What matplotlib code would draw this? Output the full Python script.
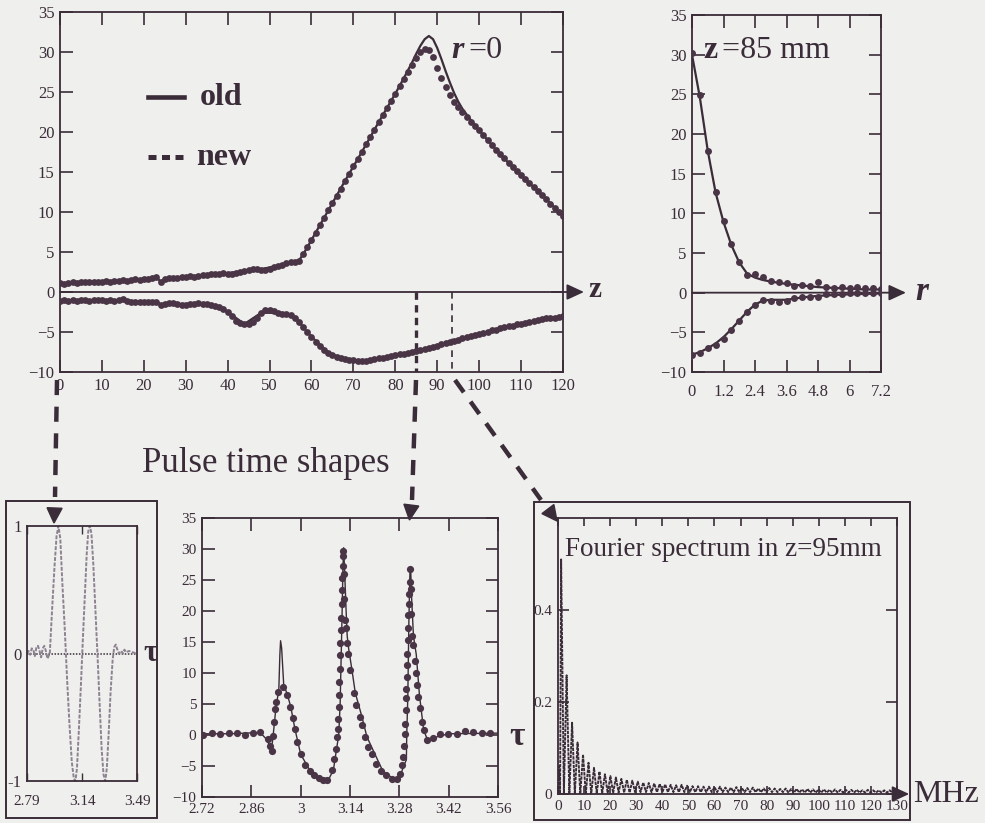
import numpy as np
import matplotlib
matplotlib.use("Agg")
import matplotlib.pyplot as plt
from matplotlib.lines import Line2D
from matplotlib.patches import Rectangle, Polygon

# ---------------- on-axis peak pressure along z (mm) ----------------
z_new = list(range(0, 121))
upper_new = [
    1.1, 1.0, 1.1, 1.2, 1.1, 1.2, 1.2, 1.2, 1.3, 1.3,
    1.3, 1.4, 1.3, 1.4, 1.4, 1.5, 1.4, 1.5, 1.6, 1.5,
    1.6, 1.6, 1.7, 1.9, 1.3, 1.6, 1.7, 1.8, 1.8, 1.9,
    1.9, 2.0, 1.9, 2.0, 2.1, 2.1, 2.2, 2.2, 2.3, 2.4,
    2.3, 2.3, 2.4, 2.5, 2.6, 2.7, 2.9, 2.9, 2.8, 2.8,
    2.9, 3.1, 3.3, 3.4, 3.6, 3.7, 3.8, 3.9, 4.7, 5.6,
    6.5, 7.4, 8.4, 9.3, 10.2, 11.1, 12.0, 12.9, 13.9, 14.8,
    15.7, 16.6, 17.5, 18.5, 19.4, 20.3, 21.2, 22.1, 23.0, 23.9,
    24.8, 25.7, 26.6, 27.5, 28.4, 29.3, 30.0, 30.4, 30.3, 29.4,
    28.0, 26.8, 25.6, 24.6, 23.8, 23.1, 22.5, 21.9, 21.3, 20.8,
    20.2, 19.6, 19.0, 18.4, 17.8, 17.3, 16.7, 16.1, 15.6, 15.1,
    14.6, 14.1, 13.6, 13.1, 12.6, 12.1, 11.6, 11.0, 10.5, 10.0,
    9.5]
lower_new = [
    -1.1, -1.0, -1.1, -1.0, -1.1, -1.0, -1.0, -1.1, -1.0, -1.0,
    -1.0, -1.1, -1.0, -1.1, -1.0, -0.9, -1.1, -1.2, -1.2, -1.2,
    -1.2, -1.2, -1.3, -1.2, -1.6, -1.5, -1.4, -1.4, -1.5, -1.6,
    -1.6, -1.5, -1.5, -1.4, -1.5, -1.5, -1.6, -1.7, -1.9, -2.1,
    -2.5, -3.0, -3.6, -3.9, -4.0, -4.0, -3.8, -3.2, -2.6, -2.3,
    -2.2, -2.4, -2.6, -2.7, -2.8, -2.9, -3.2, -3.7, -4.4, -5.0,
    -5.6, -6.2, -6.7, -7.2, -7.6, -7.9, -8.1, -8.3, -8.4, -8.5,
    -8.5, -8.6, -8.6, -8.6, -8.5, -8.4, -8.3, -8.2, -8.1, -8.0,
    -7.9, -7.8, -7.7, -7.6, -7.5, -7.35, -7.2, -7.1, -7.0, -6.85,
    -6.7, -6.55, -6.4, -6.25, -6.1, -5.95, -5.8, -5.65, -5.5, -5.35,
    -5.2, -5.1, -4.95, -4.8, -4.7, -4.55, -4.4, -4.3, -4.2, -4.05,
    -3.95, -3.85, -3.7, -3.6, -3.5, -3.4, -3.3, -3.25, -3.2, -3.1,
    -3.0]

z_old = [0, 4, 8, 12, 16, 20, 22, 23, 24, 25, 28, 32, 36, 40, 44, 48,
         52, 56, 57, 58, 60, 64, 68, 72, 76, 80, 82, 84, 85, 86, 87, 88,
         89, 90, 91, 92, 93, 94, 95, 96, 98, 100, 104, 108, 112, 116, 120]
upper_old = [1.1, 1.15, 1.3, 1.35, 1.45, 1.6, 1.7, 1.85, 1.3, 1.6, 1.8, 1.95,
             2.15, 2.35, 2.6, 2.85, 3.3, 3.8, 3.95, 4.7, 6.5, 10.2, 13.9, 17.5,
             21.2, 24.8, 26.7, 28.7, 29.8, 30.8, 31.6, 32.0, 31.6, 30.5, 29.1,
             27.6, 26.2, 24.9, 23.8, 22.9, 21.5, 20.2, 17.8, 15.6, 13.6, 11.6,
             9.5]
lower_old = [-1.05, -1.05, -1.0, -1.05, -1.1, -1.2, -1.25, -1.2, -1.55, -1.5,
             -1.5, -1.5, -1.6, -2.5, -4.0, -2.6, -2.6, -3.2, -3.7, -4.4, -5.6,
             -7.6, -8.4, -8.6, -8.3, -7.9, -7.7, -7.5, -7.35, -7.2, -7.1, -7.0,
             -6.85, -6.7, -6.55, -6.4, -6.25, -6.1, -5.95, -5.8, -5.5, -5.2,
             -4.7, -4.2, -3.7, -3.3, -3.0]

# ---------------- radial profile at z = 85 mm ----------------
r_new = [0, 0.3, 0.6, 0.9, 1.2, 1.5, 1.8, 2.1, 2.4, 2.7, 3.0, 3.3, 3.6,
         3.9, 4.2, 4.5, 4.8, 5.1, 5.4, 5.7, 6.0, 6.3, 6.6, 6.9, 7.2]
r_upper_new = [30.2, 24.9, 17.8, 12.7, 9.0, 6.1, 3.9, 2.2, 2.4, 2.0, 1.5, 1.3,
               1.2, 0.9, 1.0, 0.9, 1.4, 0.7, 0.6, 0.7, 0.6, 0.7, 0.6, 0.6, 0.5]
r_lower_new = [-7.9, -7.6, -7.0, -6.6, -5.8, -4.7, -3.6, -2.4, -1.6, -0.9, -1.1,
               -1.2, -1.1, -0.7, -0.5, -0.5, -0.6, -0.2, -0.2, -0.2, -0.1, -0.1,
               -0.1, -0.1, -0.1]
r_old = [0, 0.3, 0.6, 0.9, 1.2, 1.5, 1.8, 2.1, 2.4, 2.7, 3.0, 3.6, 4.2, 4.8,
         5.4, 6.0, 6.6, 7.2]
r_upper_old = [30.0, 24.6, 17.9, 12.6, 8.9, 6.0, 3.8, 2.4, 1.9, 1.6, 1.4, 1.1,
               0.9, 0.7, 0.6, 0.5, 0.4, 0.4]
r_lower_old = [-7.8, -7.5, -7.0, -6.4, -5.6, -4.6, -3.5, -2.4, -1.5, -1.0, -0.9,
               -0.9, -0.6, -0.4, -0.3, -0.2, -0.15, -0.1]

# ---------------- source pulse (normalised) ----------------
tau_src = [2.79, 2.80, 2.81, 2.82, 2.83, 2.84, 2.85, 2.86, 2.87, 2.88, 2.89,
           2.90, 2.91, 2.92, 2.935, 2.95, 2.965, 2.978, 2.99, 3.002, 3.015,
           3.03, 3.045, 3.06, 3.075, 3.088, 3.098, 3.108, 3.12, 3.133, 3.145,
           3.158, 3.17, 3.18, 3.19, 3.20, 3.212, 3.225, 3.24, 3.253, 3.265,
           3.277, 3.288, 3.298, 3.31, 3.322, 3.335, 3.345, 3.355, 3.365,
           3.375, 3.39, 3.40, 3.41, 3.42, 3.44, 3.46, 3.49]
amp_src = [0.0, 0.02, -0.01, 0.04, 0.03, -0.02, 0.05, 0.06, 0.02, -0.03, 0.04,
           0.06, 0.02, -0.04, 0.0, 0.35, 0.68, 0.92, 1.0, 0.9, 0.55, 0.2,
           -0.2, -0.55, -0.85, -0.98, -1.0, -0.9, -0.6, -0.25, 0.1, 0.45, 0.78,
           0.96, 1.0, 0.94, 0.7, 0.35, -0.05, -0.42, -0.75, -0.95, -1.0, -0.9,
           -0.62, -0.3, -0.05, 0.05, 0.07, 0.03, 0.0, 0.02, 0.0, 0.03, 0.01,
           0.02, 0.01, 0.0]

# ---------------- pulse at z = 85 mm ----------------
tau_new = [2.724, 2.747, 2.771, 2.797, 2.818, 2.842, 2.864, 2.885, 2.906, 2.914,
           2.918, 2.921, 2.924, 2.927, 2.930, 2.936, 2.950, 2.962, 2.971, 2.977,
           2.983, 2.990, 3.002, 3.013, 3.026, 3.038, 3.052, 3.064, 3.076, 3.089,
           3.095, 3.100, 3.103, 3.105, 3.107, 3.108, 3.109, 3.110, 3.111, 3.112,
           3.113, 3.114, 3.115, 3.116, 3.117, 3.118, 3.119, 3.120, 3.121, 3.123,
           3.124, 3.126, 3.129, 3.132, 3.135, 3.141, 3.150, 3.158, 3.167, 3.174,
           3.182, 3.191, 3.203, 3.214, 3.227, 3.242, 3.258, 3.272, 3.281, 3.287,
           3.291, 3.294, 3.296, 3.297, 3.298, 3.299, 3.300, 3.301, 3.302, 3.303,
           3.304, 3.305, 3.306, 3.307, 3.308, 3.309, 3.310, 3.312, 3.314, 3.317,
           3.320, 3.324, 3.328, 3.331, 3.334, 3.338, 3.343, 3.349, 3.359, 3.376,
           3.396, 3.419, 3.444, 3.467, 3.490, 3.515, 3.538]
pulse_new = [0.0, 0.4, 0.2, 0.3, 0.3, 0.0, 0.3, 0.5, -0.7, -1.8,
             -2.6, -0.2, 2.1, 4.2, 5.3, 7.0, 7.7, 6.5, 4.5, 2.8,
             0.9, -1.1, -3.1, -4.8, -5.8, -6.4, -6.9, -7.2, -7.2, -5.6,
             -3.8, -2.2, -0.3, 1.0, 2.6, 4.5, 6.4, 8.6, 10.7, 12.9,
             14.8, 16.9, 18.8, 21.2, 23.4, 25.3, 27.2, 28.8, 29.6, 26.0,
             22.0, 18.5, 17.3, 14.9, 13.0, 10.5, 6.8, 4.9, 2.9, 1.6,
             -0.3, -1.9, -3.1, -4.6, -5.8, -6.5, -7.1, -7.1, -6.3, -4.9,
             -3.6, -1.7, 0.2, 1.8, 4.0, 5.9, 7.5, 9.4, 11.3, 13.1,
             15.3, 17.2, 19.3, 21.2, 22.8, 24.7, 26.7, 23.5, 19.5, 16.0,
             14.5, 12.0, 10.0, 8.0, 6.2, 4.3, 2.1, 0.8, -0.8, -0.5,
             0.1, 0.2, 0.1, 0.6, 0.5, 0.3, 0.3]
tau_old = [2.72, 2.80, 2.885, 2.905, 2.917, 2.922, 2.930, 2.938, 2.941, 2.943,
           2.946, 2.952, 2.962, 2.972, 2.984, 3.000, 3.027, 3.060, 3.080, 3.093,
           3.102, 3.108, 3.112, 3.117, 3.120, 3.122, 3.125, 3.129, 3.132, 3.136,
           3.145, 3.155, 3.174, 3.188, 3.210, 3.233, 3.264, 3.280, 3.293, 3.300,
           3.301, 3.304, 3.307, 3.310, 3.312, 3.315, 3.320, 3.328, 3.337, 3.349,
           3.360, 3.380, 3.420, 3.560]
pulse_old = [0.2, 0.2, 0.4, -0.8, -2.5, 0.0, 4.5, 7.3, 13.0, 15.2,
             14.0, 8.0, 6.6, 4.5, 0.9, -3.1, -5.8, -7.1, -7.1, -5.6,
             -2.2, 0.0, 5.0, 18.0, 27.0, 30.2, 26.0, 20.0, 16.0, 14.0,
             10.7, 6.8, 2.9, -0.3, -3.0, -5.8, -7.1, -7.0, -4.9, -4.0,
             0.0, 6.0, 18.0, 26.0, 27.0, 22.0, 16.0, 13.0, 6.5, 0.8,
             -0.8, -0.4, 0.2, 0.3]

# ---------------- spectrum at z = 95 mm ----------------
harm_first, harm_step = 1.2, 2.1
harm_peak = [0.510, 0.258, 0.155, 0.112, 0.086, 0.068, 0.057, 0.049, 0.043, 0.039,
             0.036, 0.033, 0.031, 0.029, 0.027, 0.025, 0.024, 0.023, 0.022, 0.021,
             0.020, 0.019, 0.020, 0.018, 0.017, 0.017, 0.016, 0.016, 0.015, 0.016,
             0.014, 0.014, 0.015, 0.013, 0.013, 0.014, 0.012, 0.012, 0.013, 0.012,
             0.011, 0.012, 0.011, 0.011, 0.010, 0.011, 0.010, 0.010, 0.010, 0.009,
             0.010, 0.009, 0.009, 0.009, 0.009, 0.008, 0.009, 0.008, 0.008, 0.008,
             0.008, 0.007]
harm_trough = [0.0, 0.0, 0.0, 0.0, 0.0, 0.0, 0.001, 0.001, 0.002, 0.002,
               0.003, 0.003, 0.003, 0.004, 0.004, 0.004, 0.004, 0.004, 0.004, 0.004,
               0.004, 0.004, 0.004, 0.004, 0.004, 0.004, 0.004, 0.004, 0.004, 0.004,
               0.004, 0.004, 0.004, 0.004, 0.004, 0.004, 0.004, 0.004, 0.004, 0.004,
               0.004, 0.003, 0.003, 0.003, 0.003, 0.003, 0.003, 0.003, 0.003, 0.003,
               0.003, 0.003, 0.003, 0.003, 0.003, 0.003, 0.003, 0.003, 0.003, 0.003,
               0.003, 0.003]

# ---------------- styling ----------------
plt.rcParams['font.family'] = ['Liberation Serif', 'DejaVu Serif']
W, H = 985, 823
BG = '#efefed'
INK = '#3a2c38'
DOT = '#4a3546'

fig = plt.figure(figsize=(W / 100, H / 100), dpi=100, facecolor=BG)


def px_axes(left, top, right, bottom):
    a = fig.add_axes([left / W, 1 - bottom / H, (right - left) / W, (bottom - top) / H])
    a.set_facecolor('none')
    for s in a.spines.values():
        s.set_color(INK)
        s.set_linewidth(1.3)
    return a


arrow_kw = dict(arrowstyle='-|>,head_length=0.65,head_width=0.3', lw=1.3,
                color=INK, shrinkA=0, shrinkB=0, mutation_scale=16)

# ---- main panel: peak pressures along the axis ----
ax = px_axes(60, 12, 563, 372)
ax.set_xlim(0, 120)
ax.set_ylim(-10, 35)
ax.set_xticks(range(0, 121, 10))
ax.set_yticks(range(-10, 36, 5))
ax.tick_params(direction='in', length=9, width=1.2, top=True, right=True,
               labelsize=12, pad=4, colors=INK)
ax.plot(z_old, upper_old, color=INK, lw=1.6, zorder=3)
ax.plot(z_old, lower_old, color=INK, lw=1.6, zorder=3)
ax.plot(z_new, upper_new, 'o', ms=4.9, mew=0, color=DOT, zorder=4)
ax.plot(z_new, lower_new, 'o', ms=4.9, mew=0, color=DOT, zorder=4)
ax.annotate('', xy=(125, 0), xytext=(0, 0), arrowprops=arrow_kw,
            annotation_clip=False)
ax.text(127.5, 0.3, 'z', fontsize=21, fontweight='bold', color=INK,
        ha='center', va='center')
ax.plot([85, 85], [0, -10], color=INK, lw=2.4, dashes=(2.2, 1.6))
ax.plot([93.5, 93.5], [0, -10], color=INK, lw=1.2, dashes=(4, 3))

# ---- radial profile ----
axr = px_axes(692, 15, 881, 372)
axr.set_xlim(0, 7.2)
axr.set_ylim(-10, 35)
axr.set_xticks([0, 1.2, 2.4, 3.6, 4.8, 6, 7.2])
axr.set_xticklabels(['0', '1.2', '2.4', '3.6', '4.8', '6', '7.2'])
axr.set_yticks(range(-10, 36, 5))
axr.tick_params(direction='in', length=9, width=1.2, top=True, right=True,
                labelsize=12, pad=4, colors=INK)
axr.tick_params(axis='x', pad=9)
axr.plot(r_old, r_upper_old, color=INK, lw=1.6, zorder=3)
axr.plot(r_old, r_lower_old, color=INK, lw=1.6, zorder=3)
axr.plot(r_new, r_upper_new, 'o', ms=5, mew=0, color=DOT, zorder=4)
axr.plot(r_new, r_lower_new, 'o', ms=5, mew=0, color=DOT, zorder=4)
axr.annotate('', xy=(8.15, 0), xytext=(0, 0), arrowprops=arrow_kw,
             annotation_clip=False)
axr.text(8.75, 0.2, 'r', fontsize=24, fontweight='bold', fontstyle='italic',
         color=INK, ha='center', va='center')
axr.text(0.45, 30.5, 'z', fontsize=23, fontweight='bold', color=INK,
         ha='left', va='center')
axr.text(1.15, 30.5, '=85 mm', fontsize=23, color=INK, ha='left', va='center')

# ---- source pulse ----
axc = px_axes(27, 526, 137, 781)
axc.set_xlim(2.79, 3.49)
axc.set_ylim(-1, 1)
axc.set_xticks([2.79, 3.14, 3.49])
axc.set_xticklabels(['2.79', '3.14', '3.49'])
axc.set_yticks([-1, 0, 1])
axc.set_yticklabels(['-1', '0', '1'])
axc.tick_params(axis='x', direction='in', length=6, width=1.0, top=True,
                labelsize=11, pad=10, colors=INK)
axc.tick_params(axis='y', length=0, labelsize=12, pad=4, colors=INK)
axc.axhline(0, color=INK, lw=1.1, dashes=(1, 1))
axc.plot(tau_src, amp_src, color='#8c8290', lw=1.4, dashes=(2, 0.8), clip_on=False)
axc.text(3.575, 0.0, 'τ', fontsize=22, fontweight='bold', color=INK,
         ha='center', va='center')

# ---- pulse at z = 85 mm ----
axd = px_axes(202, 518, 498, 797)
axd.set_xlim(2.72, 3.56)
axd.set_ylim(-10, 35)
axd.set_xticks([2.72, 2.86, 3.0, 3.14, 3.28, 3.42, 3.56])
axd.set_xticklabels(['2.72', '2.86', '3', '3.14', '3.28', '3.42', '3.56'])
axd.set_yticks(range(-10, 36, 5))
axd.tick_params(direction='in', length=9, width=1.2, top=True, right=True,
                labelsize=11, pad=4, colors=INK)
axd.plot(tau_old, pulse_old, color=INK, lw=1.0, zorder=3)
axd.plot(tau_new, pulse_new, 'o', ms=5.2, mew=0, color=DOT, zorder=4)
axd.text(3.615, -0.2, 'τ', fontsize=24, fontweight='bold', color=INK,
         ha='center', va='center', clip_on=False)

# ---- spectrum at z = 95 mm ----
harm_f = harm_first + harm_step * np.arange(len(harm_peak))
spec_f = [0.0, 0.4, 0.8]
spec_a = [0.0, 0.06, 0.0]
for f, pk, tr in zip(harm_f, harm_peak, harm_trough):
    spec_f += [f, f + harm_step / 2]
    spec_a += [pk, tr]
axe = px_axes(558, 518, 897, 794)
axe.set_xlim(0, 130)
axe.set_ylim(0, 0.6)
axe.set_xticks(range(0, 131, 10))
axe.set_yticks([0, 0.2, 0.4])
axe.set_yticklabels(['0', '0.2', '0.4'])
axe.tick_params(direction='in', length=8, width=1.2, top=True, right=True,
                labelsize=11, pad=4, colors=INK)
axe.tick_params(axis='x', length=6)
axe.plot(spec_f, spec_a, color=INK, lw=1.35, dashes=(1.8, 0.5))
axe.annotate('', xy=(1.036, 0), xytext=(0.99, 0), xycoords='axes fraction',
             textcoords='axes fraction', arrowprops=arrow_kw,
             annotation_clip=False)
axe.text(0.02, 0.885, 'Fourier spectrum in z=95mm', transform=axe.transAxes,
         fontsize=19.5, color=INK, ha='left', va='center')

# ---- overlay: legend, captions, frames and pointer arrows (pixel coords) ----
ov = fig.add_axes([0, 0, 1, 1], zorder=10)
ov.set_xlim(0, W)
ov.set_ylim(H, 0)
ov.axis('off')

ov.add_line(Line2D([148, 184], [97, 97], color=INK, lw=3.3))
ov.text(200, 97, 'old', fontsize=23, fontweight='bold', color=INK,
        ha='left', va='center')
ov.add_line(Line2D([148, 183], [157, 157], color=INK, lw=3.6,
                   dashes=(1.6, 1.1), dash_capstyle='butt'))
ov.text(196, 157, 'new', fontsize=23, fontweight='bold', color=INK,
        ha='left', va='center')
ov.text(451, 50, 'r', fontsize=23, fontweight='bold', fontstyle='italic',
        color=INK, ha='left', va='center')
ov.text(468, 50, '=0', fontsize=23, color=INK, ha='left', va='center')

ov.text(142, 463, 'Pulse time shapes', fontsize=25, color=INK,
        ha='left', va='center')
ov.text(913, 795, 'MHz', fontsize=23, color=INK, ha='left', va='center')

ov.add_patch(Rectangle((6, 501), 151, 317, fill=False, ec=INK, lw=1.4))
ov.add_patch(Rectangle((534, 502), 376, 318, fill=False, ec=INK, lw=1.4))


def pointer(x0, y0, x1, y1, tip, head_len=15, head_half=7.5):
    ov.add_line(Line2D([x0, x1], [y0, y1], color=INK, lw=3.2,
                       dashes=(3.4, 2.6), dash_capstyle='butt'))
    d = np.array(tip) - np.array([x1, y1], dtype=float)
    d = d / np.hypot(*d)
    n = np.array([-d[1], d[0]])
    base = np.array(tip) - head_len * d
    ov.add_patch(Polygon([tip, base + head_half * n, base - head_half * n],
                         closed=True, color=INK))


pointer(57, 380, 55, 497, (54, 523))
pointer(416, 380, 412, 500, (409.5, 520))
pointer(455, 380, 541, 500, (557, 521))

fig.savefig('out.png', dpi=100, facecolor=BG)
